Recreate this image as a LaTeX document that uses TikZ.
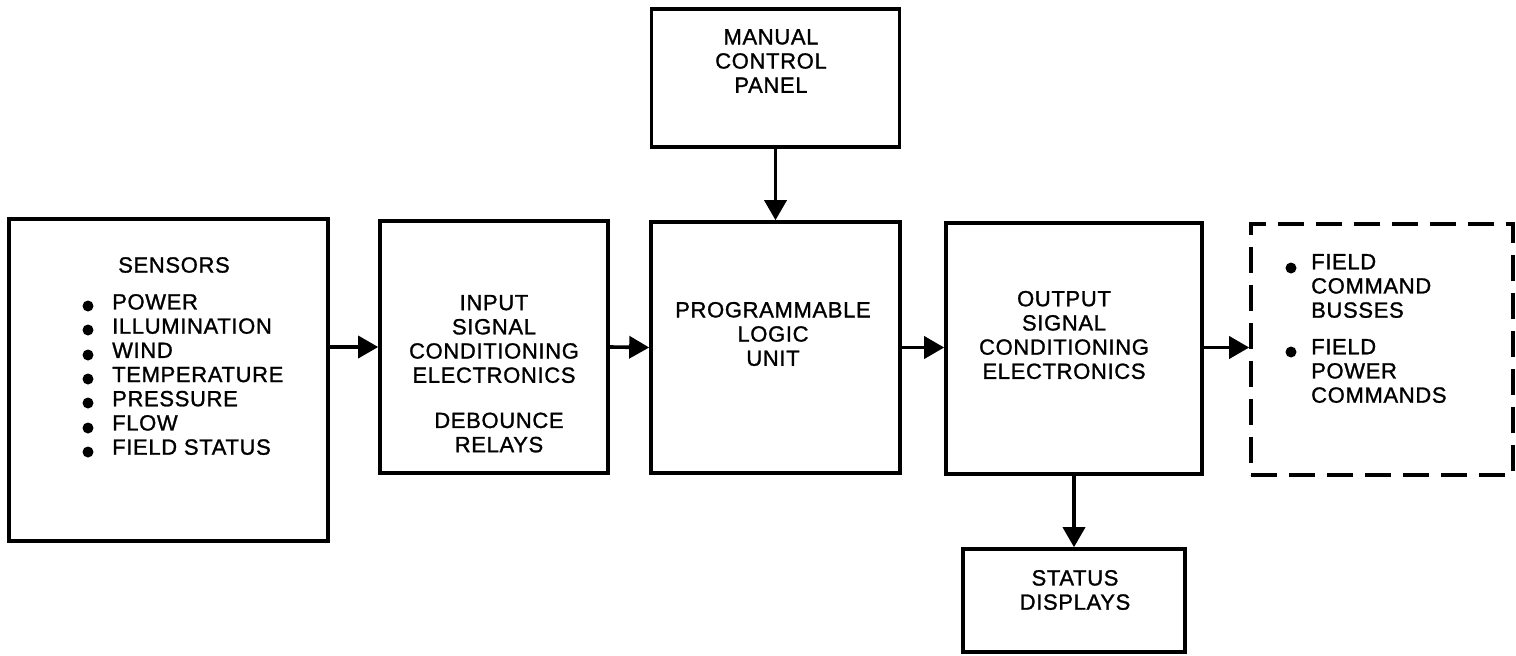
\documentclass[tikz,border=0pt]{standalone}
\usepackage{fontspec}
\setmainfont{Liberation Sans}[RawFeature={embolden=1.2},LetterSpace=3]
\usetikzlibrary{arrows.meta}
\begin{document}
\begin{tikzpicture}[x=1pt,y=-1pt,
  box/.style={draw,line width=3.6pt,rectangle,inner sep=0pt},
  dashbox/.style={box,dash pattern=on 26pt off 12pt},
  lbl/.style={inner sep=0pt,align=center,font=\fontsize{22}{24.2}\selectfont},
  lbll/.style={lbl,align=left,anchor=west},
  arr/.style={line width=3.6pt,-{Triangle[length=20pt,width=22pt]}},
  dot/.style={circle,fill,inner sep=0pt,minimum size=11pt}]
\useasboundingbox[fill=white] (0,0) rectangle (1516,656);
% boxes
\node[box,minimum width=319pt,minimum height=322pt] (sens) at (168.5,380) {};
\node[box,minimum width=228pt,minimum height=252pt] (inp) at (494,347) {};
\node[box,minimum width=249pt,minimum height=251pt] (plu) at (775.5,347.5) {};
\node[box,minimum width=248pt,minimum height=138pt] (mcp) at (775.5,78) {};
\node[box,minimum width=256pt,minimum height=251pt] (out) at (1074,348.5) {};
\node[dashbox,minimum width=262pt,minimum height=251pt] (fld) at (1382,349.5) {};
\node[box,minimum width=222pt,minimum height=103pt] (stat) at (1074,600.5) {};
% texts
\node[lbl] (senst) at (174,265) {SENSORS};
\node[lbll] (sensl) at (112,374.5) {POWER\\ILLUMINATION\\WIND\\TEMPERATURE\\PRESSURE\\FLOW\\FIELD STATUS};
\foreach \yy [count=\i] in {306,330,355,379,403,428,452}
  \node[dot] (sb\i) at (88,\yy) {};
\node[lbl] (inpt) at (494,339) {INPUT\\SIGNAL\\CONDITIONING\\ELECTRONICS};
\node[lbl] (inpt2) at (499,432.5) {DEBOUNCE\\RELAYS};
\node[lbl] (plut) at (773,334) {PROGRAMMABLE\\LOGIC\\UNIT};
\node[lbl] (mcpt) at (771,61) {MANUAL\\CONTROL\\PANEL};
\node[lbl] (outt) at (1064,335) {OUTPUT\\SIGNAL\\CONDITIONING\\ELECTRONICS};
\node[lbl] (statt) at (1075,590) {STATUS\\DISPLAYS};
\node[lbll] (fld1) at (1311,286) {FIELD\\COMMAND\\BUSSES};
\node[lbll] (fld2) at (1311,371) {FIELD\\POWER\\COMMANDS};
\node[dot] (fb1) at (1291,268) {};
\node[dot] (fb2) at (1291,352) {};
% connectors
\draw[arr] (sens.east |- inp.west) -- (inp.west);
\draw[arr] (inp.east) -- (plu.west);
\draw[arr] (plu.east) -- (out.west |- plu.east);
\draw[arr] (out.east |- plu.east) -- (fld.west |- plu.east);
\draw[arr] (mcp.south) -- (plu.north);
\draw[arr] (out.south) -- (stat.north);
\end{tikzpicture}
\end{document}
